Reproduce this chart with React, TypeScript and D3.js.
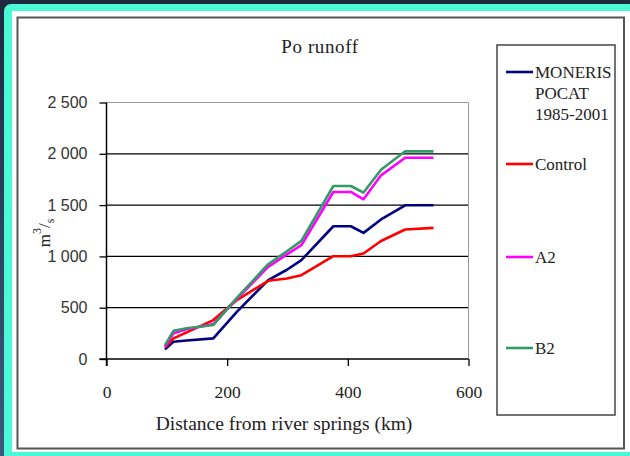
import React, { useEffect, useRef } from 'react';
import * as d3 from 'd3';

// distance from river springs (km)
const distances = [97, 111, 133, 177, 216, 268, 299, 323, 376, 405, 426, 455, 495, 542];

// runoff in m3/s
const moneris = [94, 168, 180, 201, 460, 769, 870, 963, 1294, 1294, 1229, 1360, 1498, 1498];
const control = [114, 201, 260, 379, 574, 762, 785, 817, 1002, 1002, 1028, 1150, 1262, 1278];
const a2 = [120, 250, 290, 340, 585, 898, 1020, 1109, 1628, 1628, 1557, 1790, 1962, 1962];
const b2 = [135, 275, 299, 331, 595, 924, 1050, 1151, 1686, 1686, 1622, 1845, 2024, 2024];

const seriesNames = [['MONERIS', 'POCAT', '1985-2001'], ['Control'], ['A2'], ['B2']];
const seriesColors = ['#000080', '#ff0000', '#ff00ff', '#339966'];

const yTicks = [0, 500, 1000, 1500, 2000, 2500];
const xTicks = [0, 200, 400, 600];

const W = 630;
const H = 456;
const serif = 'Liberation Serif, DejaVu Serif, serif';
const sans = 'Liberation Sans, Arial, sans-serif';

const App = () => {
  const svgRef = useRef<SVGSVGElement>(null);

  useEffect(() => {
    const svg = d3.select(svgRef.current);
    svg.selectAll('*').remove();

    // frame: dark background, cyan border, white panel
    const defs = svg.append('defs');
    const bg = defs.append('linearGradient')
      .attr('id', 'bgGrad')
      .attr('x1', 0).attr('y1', 0).attr('x2', 0).attr('y2', 1);
    bg.append('stop').attr('offset', '0%').attr('stop-color', '#1e2940');
    bg.append('stop').attr('offset', '100%').attr('stop-color', '#3f5880');

    svg.append('rect').attr('width', W).attr('height', H).attr('fill', 'url(#bgGrad)');
    svg.append('rect')
      .attr('x', 4).attr('y', 4)
      .attr('width', W + 20).attr('height', H - 4 + 20)
      .attr('rx', 7)
      .attr('fill', '#4afad6');
    svg.append('rect')
      .attr('x', 12).attr('y', 11)
      .attr('width', W - 12).attr('height', 441)
      .attr('fill', '#ffffff');
    svg.append('rect')
      .attr('x', 17.5).attr('y', 17.5)
      .attr('width', 606.5).attr('height', 431)
      .attr('fill', 'none')
      .attr('stroke', '#555')
      .attr('stroke-width', 2);

    const plot = { left: 106.5, right: 468.5, top: 102.5, bottom: 359 };

    const x = d3.scaleLinear().domain([0, 600]).range([plot.left, plot.right]);
    const y = d3.scaleLinear().domain([0, 2500]).range([plot.bottom, plot.top]);

    // gridlines
    svg.append('g')
      .selectAll('line')
      .data(yTicks.filter(d => d > 0))
      .enter()
      .append('line')
      .attr('x1', plot.left).attr('x2', plot.right)
      .attr('y1', d => y(d)).attr('y2', d => y(d))
      .attr('stroke', d => (d === 2500 ? '#999' : '#000'))
      .attr('stroke-width', d => (d === 2500 ? 1 : 1.3));

    // plot area right edge
    svg.append('line')
      .attr('x1', plot.right).attr('x2', plot.right)
      .attr('y1', plot.top).attr('y2', plot.bottom)
      .attr('stroke', '#999').attr('stroke-width', 1);

    // y axis
    const yAxis = svg.append('g')
      .attr('transform', `translate(${plot.left},0)`)
      .call(d3.axisLeft(y).tickValues(yTicks).tickSize(7).tickPadding(12)
        .tickFormat(d => d3.format(',')(d as number).replace(',', ' ')));
    yAxis.attr('font-family', sans).attr('font-size', 16);
    yAxis.select('.domain').attr('stroke', '#000').attr('stroke-width', 1.5)
      .attr('d', `M0,${plot.top}V${plot.bottom + 7}`);
    yAxis.selectAll('.tick line').attr('stroke', '#000').attr('stroke-width', 1.3);
    yAxis.selectAll('text').attr('fill', '#333');

    // x axis
    const xAxis = svg.append('g')
      .attr('transform', `translate(0,${plot.bottom})`)
      .call(d3.axisBottom(x).tickValues(xTicks).tickSize(7).tickPadding(20));
    xAxis.attr('font-family', serif).attr('font-size', 17.5);
    xAxis.select('.domain').attr('stroke', '#000').attr('stroke-width', 1.5)
      .attr('d', `M${plot.left - 7},0H${plot.right}`);
    xAxis.selectAll('.tick line').attr('stroke', '#000').attr('stroke-width', 1.3);
    xAxis.selectAll('text').attr('fill', '#222');

    // series lines
    const allSeries = [moneris, control, a2, b2];
    const line = d3.line<number>()
      .x((_, i) => x(distances[i]))
      .y(d => y(d));

    svg.append('g')
      .selectAll('path')
      .data(allSeries)
      .enter()
      .append('path')
      .attr('d', d => line(d))
      .attr('fill', 'none')
      .attr('stroke', (_, i) => seriesColors[i])
      .attr('stroke-width', 2.6)
      .attr('stroke-linejoin', 'round');

    // title
    svg.append('text')
      .attr('x', 320).attr('y', 53)
      .attr('text-anchor', 'middle')
      .attr('font-family', serif)
      .attr('font-size', 19)
      .attr('letter-spacing', 0.6)
      .attr('fill', '#222')
      .text('Po runoff');

    // x axis title
    svg.append('text')
      .attr('x', 284).attr('y', 430)
      .attr('text-anchor', 'middle')
      .attr('font-family', serif)
      .attr('font-size', 19.5)
      .attr('fill', '#222')
      .text('Distance from river springs (km)');

    // y axis title m3/s
    const yTitle = svg.append('text')
      .attr('transform', 'translate(50,233) rotate(-90)')
      .attr('text-anchor', 'middle')
      .attr('font-family', serif)
      .attr('font-size', 17)
      .attr('fill', '#222');
    yTitle.append('tspan').text('m');
    yTitle.append('tspan').attr('dy', -9).attr('font-size', 12).text('3');
    yTitle.append('tspan').attr('dy', 9).text('/');
    yTitle.append('tspan').attr('dy', 4).attr('font-size', 12).text('s');

    // legend
    svg.append('rect')
      .attr('x', 497).attr('y', 45)
      .attr('width', 118).attr('height', 370)
      .attr('fill', 'none')
      .attr('stroke', '#444')
      .attr('stroke-width', 1.5);

    const legendY = [72, 164, 257, 348];
    const items = svg.append('g')
      .selectAll('g')
      .data(seriesNames)
      .enter()
      .append('g')
      .attr('transform', (_, i) => `translate(0,${legendY[i]})`);

    items.append('line')
      .attr('x1', 506).attr('x2', 533)
      .attr('y1', 0).attr('y2', 0)
      .attr('stroke', (_, i) => seriesColors[i])
      .attr('stroke-width', 2.6);

    items.append('text')
      .attr('x', 535)
      .attr('y', 6)
      .attr('font-family', serif)
      .attr('font-size', 17)
      .attr('fill', '#222')
      .selectAll('tspan')
      .data(d => d)
      .enter()
      .append('tspan')
      .attr('x', 535)
      .attr('dy', (_, j) => (j === 0 ? 0 : 21))
      .text(d => d);
  }, []);

  return (
    <svg
      ref={svgRef}
      width={W}
      height={H}
      style={{ position: 'absolute', left: 0, top: 0, display: 'block' }}
    />
  );
};

export default App;
